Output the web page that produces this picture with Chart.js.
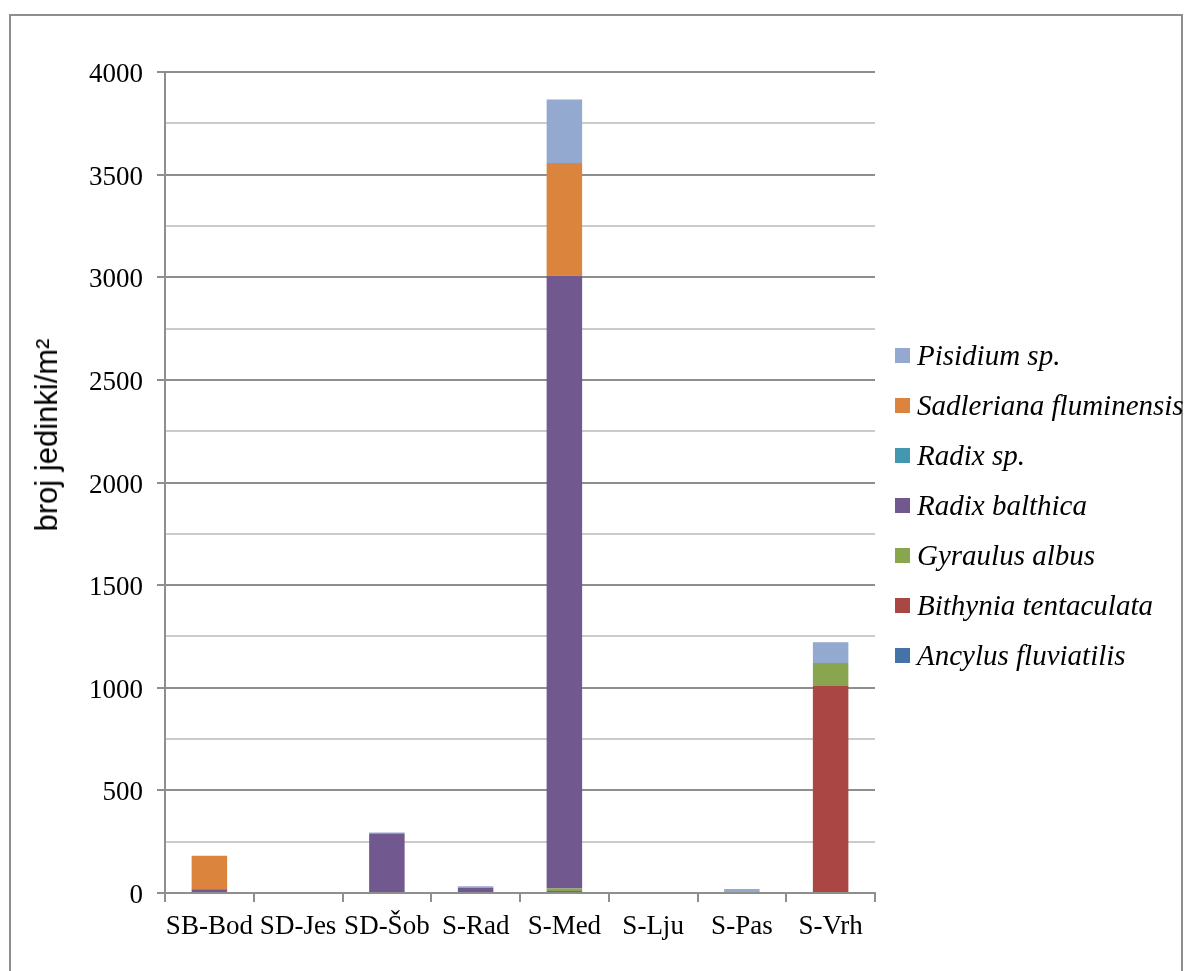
<!DOCTYPE html>
<html>
<head>
<meta charset="utf-8">
<script src="https://cdn.jsdelivr.net/npm/chart.js@4/dist/chart.umd.min.js"></script>
<style>
  body { margin: 0; background: #fff; width: 1186px; height: 971px; overflow: hidden; position: relative; }
  #frame { position: absolute; left: 9px; top: 14px; width: 1170px; height: 1000px; border: 2px solid #8e8e8e; border-bottom: none; }
  #wrap { position: absolute; left: 10px; top: 15px; width: 900px; height: 956px; }
  #ytitle { position: absolute; left: 47px; top: 435px; transform: translate(-50%, -50%) rotate(-90deg);
            font-family: "Liberation Sans", Arial, sans-serif; font-size: 31px; color: #000; white-space: nowrap; }
  #legend { position: absolute; left: 895px; top: 330px; margin: 0; padding: 0; list-style: none;
            font-family: "Liberation Serif", "Times New Roman", serif; font-style: italic; font-size: 29px; color: #000; }
  #legend li { height: 50px; line-height: 50px; white-space: nowrap; }
  #legend .box { display: inline-block; width: 15px; height: 15px; margin-right: 7px; vertical-align: middle; position: relative; top: -3px; }
</style>
</head>
<body>
<div id="frame"></div>
<div id="wrap"><canvas id="chart"></canvas></div>
<div id="ytitle">broj jedinki/m²</div>
<ul id="legend"></ul>
<script>
// Categories (sampling sites)
const sites = ['SB-Bod', 'SD-Jes', 'SD-Šob', 'S-Rad', 'S-Med', 'S-Lju', 'S-Pas', 'S-Vrh'];

// Series values, individuals per m² (bottom of stack first)
const ancylus     = [0, 0, 0, 0, 10, 0, 0, 0];
const bithynia    = [0, 0, 0, 0, 0, 0, 0, 1008];
const gyraulus    = [0, 0, 0, 0, 12, 0, 0, 112];
const radixBalth  = [18, 0, 290, 25, 2985, 0, 0, 0];
const radixSp     = [0, 0, 0, 0, 0, 0, 0, 0];
const sadleriana  = [164, 0, 0, 0, 550, 5, 0, 0];
const pisidium    = [0, 5, 5, 8, 309, 0, 20, 102];

const yTicks = [0, 500, 1000, 1500, 2000, 2500, 3000, 3500, 4000];

const series = [
    { name: 'Ancylus fluviatilis', data: ancylus, color: '#4572A7' },
    { name: 'Bithynia tentaculata', data: bithynia, color: '#AA4643' },
    { name: 'Gyraulus albus', data: gyraulus, color: '#89A54E' },
    { name: 'Radix balthica', data: radixBalth, color: '#71588F' },
    { name: 'Radix sp.', data: radixSp, color: '#4198AF' },
    { name: 'Sadleriana fluminensis', data: sadleriana, color: '#DB843D' },
    { name: 'Pisidium sp.', data: pisidium, color: '#93A9CF' }
];

const serif = '"Liberation Serif", "Times New Roman", serif';

const ctx = document.getElementById('chart').getContext('2d');
const chart = new Chart(ctx, {
    type: 'bar',
    data: {
        labels: sites,
        datasets: series.map(s => ({
            label: s.name,
            data: s.data,
            backgroundColor: s.color,
            borderWidth: 0,
            categoryPercentage: 1,
            barPercentage: 0.4
        }))
    },
    options: {
        responsive: true,
        maintainAspectRatio: false,
        animation: false,
        layout: { padding: { left: 18, top: 57, right: 35, bottom: 18 } },
        plugins: {
            legend: { display: false },
            tooltip: { enabled: false }
        },
        scales: {
            x: {
                stacked: true,
                grid: { offset: true, drawOnChartArea: false, drawTicks: true, tickLength: 9, color: '#8e8e8e', lineWidth: 2 },
                border: { color: '#8e8e8e', width: 2 },
                ticks: { color: '#000', font: { family: serif, size: 27 }, padding: 9, maxRotation: 0, autoSkip: false },
                afterFit: scale => { scale.height = 60; }
            },
            y: {
                stacked: true,
                min: 0,
                max: 4000,
                ticks: {
                    stepSize: 250,
                    color: '#000',
                    font: { family: serif, size: 27 },
                    padding: 14,
                    labelOffset: 3,
                    callback: v => yTicks.includes(v) ? v : ''
                },
                grid: {
                    drawTicks: true,
                    tickLength: 8,
                    lineWidth: 2,
                    color: c => (c.tick && c.tick.value % 500 === 0) ? '#8e8e8e' : '#cbcbcb',
                    tickColor: c => (c.tick && c.tick.value % 500 === 0) ? '#8e8e8e' : 'rgba(0,0,0,0)'
                },
                border: { color: '#8e8e8e', width: 2 },
                afterFit: scale => { scale.width = 137; }
            }
        }
    }
});

// Legend (top of stack first)
const legendEl = document.getElementById('legend');
series.slice().reverse().forEach(s => {
    const li = document.createElement('li');
    li.innerHTML = `<span class="box" style="background:${s.color}"></span>${s.name}`;
    legendEl.appendChild(li);
});
</script>
</body>
</html>
